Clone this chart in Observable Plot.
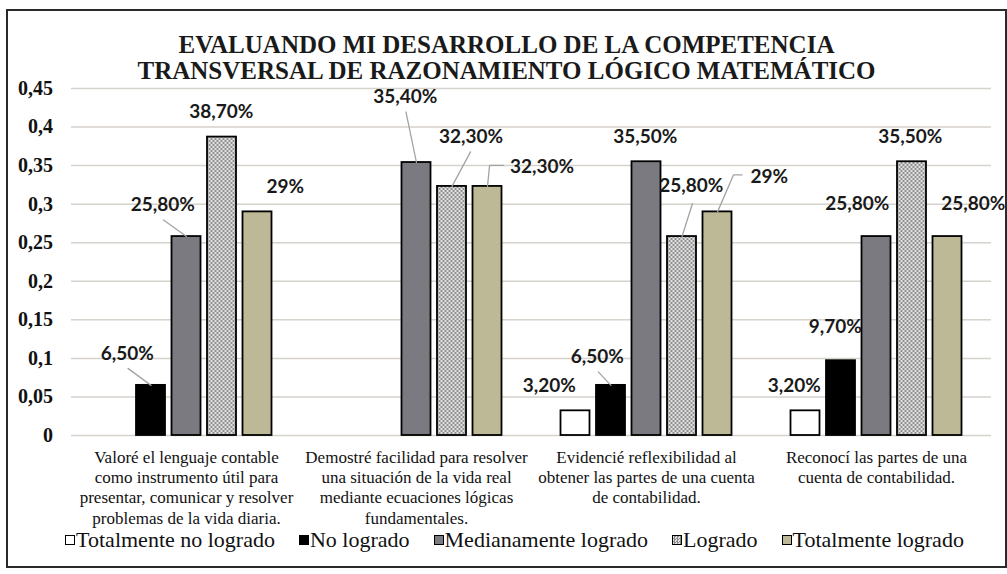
<!DOCTYPE html>
<html>
<head>
<meta charset="utf-8">
<script src="https://cdn.jsdelivr.net/npm/d3@7"></script>
<script src="https://cdn.jsdelivr.net/npm/@observablehq/plot@0.6"></script>
<style>
  html, body { margin: 0; padding: 0; background: #fff; }
  #frame { position: absolute; left: 6px; top: 9px; width: 997px; height: 555px; border: 2px solid #2a2a2a; background: #fff; }
  .serif { font-family: "Liberation Serif", "Times New Roman", Times, "DejaVu Serif", "Noto Serif", serif; }
  #title { height: 52px; padding-top: 21px; text-align: center; font-weight: bold; font-size: 25px; line-height: 26px; color: #1a1a1a; white-space: nowrap; }
  #chart svg { display: block; overflow: visible; }
  #chart g[aria-label^="y-axis"] text { font-family: "Liberation Serif", "Times New Roman", Times, "DejaVu Serif", serif; font-weight: bold; font-size: 20px; fill: #111; }
  #legend { height: 24px; margin-top: 2px; line-height: 24px; text-align: center; font-size: 22px; color: #111; white-space: nowrap; padding-left: 16px; }
  #legend .item { margin: 0 12px; }
  #legend i { display: inline-block; width: 8px; height: 8px; border: 1.5px solid #000; margin-right: 1px; vertical-align: 2px; }
</style>
</head>
<body>
<div id="frame">
  <div id="title" class="serif"></div>
  <div id="chart"></div>
  <div id="legend" class="serif"></div>
</div>
<script>
// ---------- data ----------
const titleLines = [
  "EVALUANDO MI DESARROLLO DE LA COMPETENCIA",
  "TRANSVERSAL DE RAZONAMIENTO LÓGICO MATEMÁTICO"
];
const categories = [
  "Valoré el lenguaje contable\ncomo instrumento útil para\npresentar, comunicar y resolver\nproblemas de la vida diaria.",
  "Demostré facilidad para resolver\nuna situación de la vida real\nmediante ecuaciones lógicas\nfundamentales.",
  "Evidencié reflexibilidad al\nobtener las partes de una cuenta\nde contabilidad.",
  "Reconocí las partes de una\ncuenta de contabilidad."
];
const series = ["Totalmente no logrado", "No logrado", "Medianamente logrado", "Logrado", "Totalmente logrado"];
const totalmenteNoLogrado = [0, 0, 0.032, 0.032];
const noLogrado = [0.065, 0, 0.065, 0.097];
const medianamenteLogrado = [0.258, 0.354, 0.355, 0.258];
const logrado = [0.387, 0.323, 0.258, 0.355];
const totalmenteLogrado = [0.29, 0.323, 0.29, 0.258];
const yTicks = [0, 0.05, 0.1, 0.15, 0.2, 0.25, 0.3, 0.35, 0.4, 0.45];

// ---------- styles / layout ----------
const serifStack = '"Liberation Serif", "Times New Roman", Times, "DejaVu Serif", serif';
const fills = ["#ffffff", "#000000", "#7a7a80", "url(#logradoPattern)", "#bdb895"];
const legendFills = ["#ffffff", "#000000", "#7a7a80",
  "repeating-conic-gradient(#8a8a8a 0 25%, #e4e4e4 0 50%) 0 0/3px 3px", "#bdb895"];
const W = 997, H = 442, mL = 62.5, mR = 14.5, mT = 4, mB = 91;
const xPad = 0.7394; // outer space in each group, in bar steps
// label nudges in px relative to bar top centre ("group-series")
const labelOffsets = {
  "0-1": [-23.7, -31.9], "0-2": [-23.7, -32.1], "0-3": [-0.7, -25.1], "0-4": [27.8, -24.9],
  "1-2": [-11.2, -65.4], "1-3": [19, -49.3], "1-4": [54.5, -19.3],
  "2-0": [-26.2, -25.3], "2-1": [-13.7, -28.9], "2-2": [-1.2, -24.6], "2-3": [9.3, -50.6], "2-4": [51.8, -34.7],
  "3-0": [-11.2, -25.3], "3-1": [-5.7, -33.5], "3-2": [-19.2, -33.1], "3-3": [-1.7, -24.6], "3-4": [25.8, -33.1]
};
// leader line paths in px relative to bar top centre
const leaderPaths = {
  "0-1": [[0, 0], [-23, -17]],
  "0-2": [[0, 0], [-23, -16.5]],
  "1-2": [[0, 0], [-10.5, -50.5]],
  "1-3": [[0, 0], [18.5, -34.5]],
  "1-4": [[0, 0], [2.1, -21], [16.1, -21]],
  "2-1": [[0, 0], [-12.7, -13.5]],
  "2-3": [[0, 0], [10.5, -33]],
  "2-4": [[0, 0], [16.1, -37.1], [24.5, -37.1]]
};

// ---------- build ----------
const valuesBySeries = [totalmenteNoLogrado, noLogrado, medianamenteLogrado, logrado, totalmenteLogrado];
const rows = series.flatMap((s, si) => valuesBySeries[si].map((v, ci) => ({cat: categories[ci], ci, serie: s, si, value: v})));
const bars = rows.filter(d => d.value > 0);

const pxX = ((W - mL - mR) / categories.length) / (series.length + 2 * xPad);
const pxY = (H - mT - mB) / (yTicks[yTicks.length - 1]);

const fmtPct = v => {
  const p = Math.round(v * 1000) / 10;
  return Number.isInteger(p) ? `${p}%` : p.toFixed(2).replace(".", ",") + "%";
};
const labels = bars.map(d => {
  const [dx, dy] = labelOffsets[`${d.ci}-${d.si}`] || [0, -25];
  return {...d, lx: d.si + 0.5 + dx / pxX, ly: d.value - dy / pxY, text: fmtPct(d.value)};
});
const leaderPts = Object.entries(leaderPaths).flatMap(([key, pts]) => {
  const [ci, si] = key.split("-").map(Number);
  const v = valuesBySeries[si][ci];
  return pts.map(([dx, dy]) => ({id: key, cat: categories[ci], x: si + 0.5 + dx / pxX, y: v - dy / pxY}));
});

const fmtTick = d => d === 0 ? "0" : String(+d.toFixed(2)).replace(".", ",");

const chart = Plot.plot({
  width: W, height: H,
  marginLeft: mL, marginRight: mR, marginTop: mT, marginBottom: mB,
  style: {background: "transparent", overflow: "visible"},
  fx: {domain: categories, padding: 0, axis: null},
  x: {domain: [-xPad, series.length + xPad], axis: null},
  y: {domain: [0, yTicks[yTicks.length - 1]], ticks: yTicks, tickFormat: fmtTick, tickSize: 0, tickPadding: 18.5, label: null},
  color: {domain: series, range: fills},
  marks: [
    Plot.ruleY(yTicks, {stroke: "#d6d2cc", strokeWidth: 1.5}),
    Plot.rect(bars, {fx: "cat", x1: "si", x2: d => d.si + 1, y1: 0, y2: "value", fill: "serie",
      stroke: "#000", strokeWidth: 1.8, insetLeft: 3.25, insetRight: 3.25}),
    Plot.line(leaderPts, {fx: "cat", x: "x", y: "y", z: "id", stroke: "#a3a3a3", strokeWidth: 1.3}),
    Plot.text(labels, {fx: "cat", x: "lx", y: "ly", text: "text", fontFamily: "Lato", fontWeight: 700, fontSize: 19, fill: "#1a1a1a"}),
    Plot.text(categories, {fx: d => d, text: d => d, frameAnchor: "bottom", lineAnchor: "top", dy: 13,
      fontFamily: serifStack, fontSize: 17, lineHeight: 1.19, fill: "#111"})
  ]
});

const ns = "http://www.w3.org/2000/svg";
const defs = document.createElementNS(ns, "defs");
defs.innerHTML = `<pattern id="logradoPattern" width="4" height="4" patternUnits="userSpaceOnUse">
  <rect width="4" height="4" fill="#e2e2e2"/><rect width="2" height="2" fill="#8f8f8f"/><rect x="2" y="2" width="2" height="2" fill="#8f8f8f"/></pattern>`;
chart.insertBefore(defs, chart.firstChild);
document.getElementById("chart").appendChild(chart);

document.getElementById("title").innerHTML = titleLines.join("<br>");
document.getElementById("legend").innerHTML = series.map((s, i) =>
  `<span class="item"><i style="background:${legendFills[i]}"></i>${s}</span>`).join("");
</script>
</body>
</html>
